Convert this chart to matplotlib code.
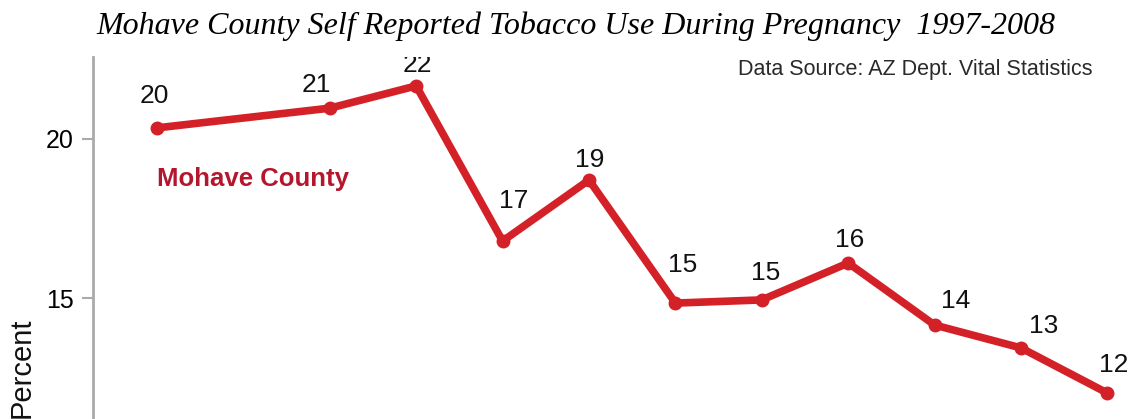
import matplotlib
matplotlib.use("Agg")
import matplotlib.pyplot as plt
from matplotlib import font_manager

years = [1997, 1999, 2000, 2001, 2002, 2003, 2004, 2005, 2006, 2007, 2008]
percent = [20.35, 20.97, 21.67, 16.79, 18.71, 14.84, 14.94, 16.10, 14.15, 13.43, 12.01]
ytick_values = [15, 20]

# label offsets (pixels, x right / y up) from each point to the label baseline
label_dx = [-3, -13, 1, 11, 1, 7, 4, 1, 21, 23, 6]
label_dy = [25, 16, 14, 33, 13, 31, 20, 16, 17, 15, 21]

line_color = "#d42128"
name_color = "#b3162d"


def pick_font(names):
    for n in names:
        try:
            font_manager.findfont(n, fallback_to_default=False)
            return n
        except Exception:
            pass
    return "DejaVu Sans"


sans = pick_font(["Liberation Sans Narrow", "Liberation Sans", "Arial"])
serif = pick_font(["Liberation Serif", "Times New Roman", "DejaVu Serif"])

W, H = 1130, 419
fig = plt.figure(figsize=(W / 100, H / 100), dpi=100)
ax = fig.add_axes([93 / W, 0, 1 - 93 / W, 1 - 57 / H])

ax.plot(years, percent, color=line_color, lw=5.5, marker="o", ms=9,
        clip_on=False, zorder=3)

for x, y, dx, dy in zip(years, percent, label_dx, label_dy):
    ax.annotate("%.0f" % y, (x, y), xytext=(dx, dy), textcoords="offset pixels",
                ha="center", va="baseline", fontsize=19, family=sans,
                color="#111111", annotation_clip=False, clip_on=True)

# axis scale: 20 at y=139 px, 15 at y=298 px, 1997 at x=157, step 86.4 px
ax.set_ylim(20 - (419 - 139) / 31.8, 20 + (139 - 57) / 31.8)
ax.set_xlim(1997 - (157 - 93) / 86.4, 1997 + (1130 - 157) / 86.4)

ax.set_yticks(ytick_values)
ax.set_yticklabels([str(v) for v in ytick_values], family=sans, fontsize=18)
ax.tick_params(axis="y", length=8, width=1.5, color="#aaaaaa", pad=6)
ax.set_xticks([])
for s in ["top", "right", "bottom"]:
    ax.spines[s].set_visible(False)
ax.spines["left"].set_color("#aaaaaa")
ax.spines["left"].set_linewidth(2)

fig.text(157 / W, 1 - 186 / H, "Mohave County", ha="left", va="baseline",
         fontsize=18.5, fontweight="bold", family=sans, color=name_color)

fig.text(576 / W, 1 - 34 / H,
         "Mohave County Self Reported Tobacco Use During Pregnancy  1997-2008",
         ha="center", va="baseline", fontsize=23, style="italic",
         family=serif, color="black")

fig.text(1092 / W, 1 - 75 / H, "Data Source: AZ Dept. Vital Statistics",
         ha="right", va="baseline", fontsize=15.5, family=sans, color="#2a2a2a")

fig.text(22 / W, 1 - 317 / H, "Percent", rotation=90, ha="center", va="top",
         fontsize=21, family=sans, color="#111111")

plt.savefig("out.png", dpi=100)
